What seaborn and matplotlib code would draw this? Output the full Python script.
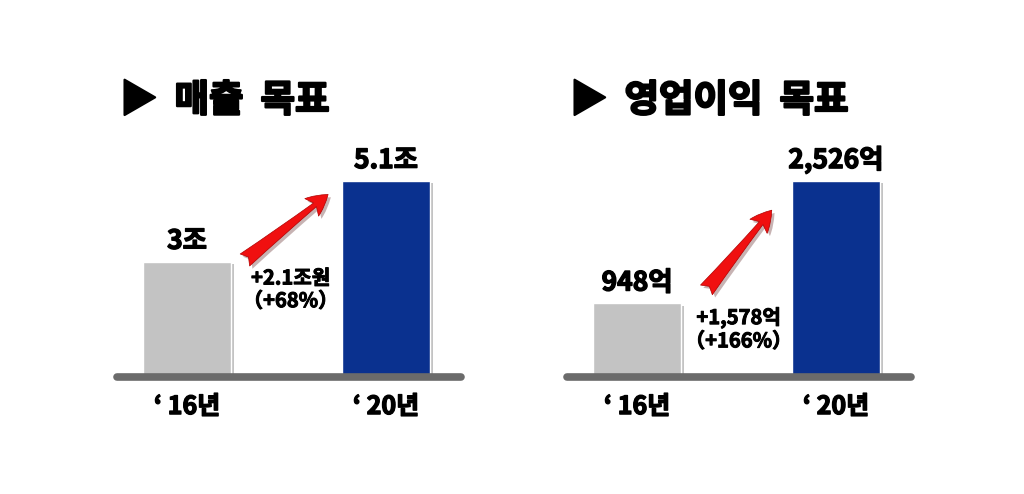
import matplotlib
matplotlib.use("Agg")
import matplotlib.pyplot as plt
import matplotlib.patheffects as pe
import pandas as pd
import seaborn as sns

sns.set_style("white")
plt.rcParams["font.family"] = ["Noto Sans CJK KR", "DejaVu Sans"]
plt.rcParams["font.weight"] = "black"

# data
years = ["‘ 16년", "‘ 20년"]
sales = [3.0, 5.1]
sales_labels = ["3조", "5.1조"]
sales_delta = "+2.1조원\n（+68%）"
profit = [948, 2526]
profit_labels = ["948억", "2,526억"]
profit_delta = "+1,578억\n（+166%）"

bar_colors = ["#C3C3C3", "#0A318F"]
base_color = "#6B6B6B"

W, H = 1024, 494
fig = plt.figure(figsize=(W / 100, H / 100), dpi=100)


def heavy(w):
    # fake a heavier weight than the installed bold
    return [pe.withStroke(linewidth=w, foreground="black")]


def panel(x0_px, values, labels, title, delta, arrow_from, arrow_to, delta_xy):
    # axes: baseline at y=377px, max bar is 196px tall
    ax_h = 230
    ax = fig.add_axes([x0_px / W, (H - 377) / H, 344 / W, ax_h / H])
    df = pd.DataFrame({"year": years, "value": values})
    sns.barplot(data=df, x="year", y="value", hue="year", palette=bar_colors,
                width=0.44, legend=False, ax=ax, saturation=1)
    for p in ax.patches:
        p.set_path_effects([pe.SimplePatchShadow(offset=(2.5, -1.5), alpha=0.35,
                                                 shadow_rgbFace="#555555"), pe.Normal()])
    top = max(values) * ax_h / 196
    ax.set_ylim(0, top)
    ax.set_xlim(-0.352, 1.377)
    ax.plot([-0.352, 1.377], [0, 0], color=base_color, lw=5.5,
            solid_capstyle="round", clip_on=False, zorder=5)
    for i, (v, lab) in enumerate(zip(values, labels)):
        ax.text(i, v + top * 0.03, lab, ha="center", va="bottom", color="black",
                fontsize=19, fontweight="black", path_effects=heavy(1.0))
    ax.annotate("", xy=arrow_to, xytext=arrow_from,
                arrowprops=dict(arrowstyle="fancy,head_length=1.5,head_width=1.6,tail_width=1.1",
                                fc="#F01010", ec="#B00000", lw=0.5,
                                path_effects=[pe.SimplePatchShadow(offset=(2, -2), alpha=0.3),
                                              pe.Normal()]))
    ax.text(delta_xy[0], delta_xy[1], delta, ha="center", va="top", color="black",
            fontsize=14.5, fontweight="black", linespacing=1.1, path_effects=heavy(0.7))
    ax.set_xticks([0, 1])
    ax.set_xticklabels(years, fontsize=18, fontweight="black", color="black")
    for t in ax.get_xticklabels():
        t.set_path_effects(heavy(1.0))
    ax.tick_params(axis="x", length=0, pad=13)
    ax.set_yticks([])
    ax.set_xlabel("")
    ax.set_ylabel("")
    sns.despine(ax=ax, left=True, bottom=True)
    fig.text((x0_px + 3) / W, (H - 100) / H, "▶  " + title.replace(" ", "  "),
             fontsize=27, fontweight="black", va="center", ha="left", color="black",
             path_effects=heavy(1.6))
    return ax


panel(117, sales, sales_labels, "매출 목표", sales_delta,
      (0.28, sales[0] * 1.0), (0.72, sales[1] * 0.94), (0.52, sales[0] * 0.95))
panel(567, profit, profit_labels, "영업이익 목표", profit_delta,
      (0.34, profit[0] * 1.155), (0.686, profit[1] * 0.862), (0.51, profit[0] * 0.95))

fig.savefig("out.png", dpi=100, facecolor="white")
